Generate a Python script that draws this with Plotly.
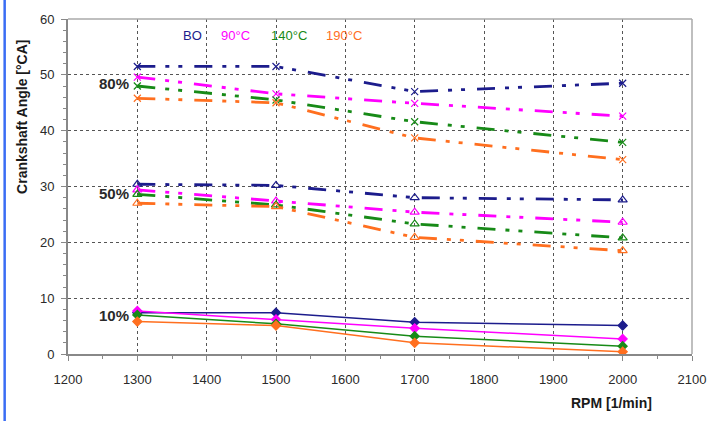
import plotly.graph_objects as go

# Engine speed (RPM) for every measurement
rpm = [1300, 1500, 1700, 2000]

series_names = ["BO", "90°C", "140°C", "190°C"]
series_colors = ["#1c1c8c", "#ff00ff", "#178a17", "#ff6f1f"]

# Crank angle at 80 % mass fraction burned [°CA]
mfb80_bo = [51.5, 51.5, 47.0, 48.5]
mfb80_90 = [49.6, 46.6, 44.9, 42.6]
mfb80_140 = [48.0, 45.5, 41.6, 37.9]
mfb80_190 = [45.8, 45.0, 38.7, 34.8]

# Crank angle at 50 % mass fraction burned [°CA]
mfb50_bo = [30.4, 30.2, 28.0, 27.6]
mfb50_90 = [29.4, 27.4, 25.4, 23.6]
mfb50_140 = [28.6, 26.7, 23.3, 20.8]
mfb50_190 = [27.0, 26.4, 20.9, 18.5]

# Crank angle at 10 % mass fraction burned [°CA]
mfb10_bo = [7.4, 7.4, 5.7, 5.1]
mfb10_90 = [7.7, 6.2, 4.6, 2.7]
mfb10_140 = [7.0, 5.4, 3.2, 1.4]
mfb10_190 = [5.8, 5.1, 2.0, 0.4]

level_labels = ["80%", "50%", "10%"]
level_label_y = [48.5, 28.7, 6.9]

groups = [
    ([mfb80_bo, mfb80_90, mfb80_140, mfb80_190], "x-thin-open", 7,
     "18px,10px,4px,9px,4px,12px", 2.8),
    ([mfb50_bo, mfb50_90, mfb50_140, mfb50_190], "triangle-up-open", 8,
     "18px,10px,4px,9px,4px,12px", 2.8),
    ([mfb10_bo, mfb10_90, mfb10_140, mfb10_190], "diamond", 7,
     "solid", 1.5),
]

fig = go.Figure()
for values, symbol, msize, dash, lw in groups:
    for name, color, ys in zip(series_names, series_colors, values):
        fig.add_trace(go.Scatter(
            x=rpm, y=ys, mode="lines+markers", name=name, showlegend=False,
            line=dict(color=color, width=lw, dash=dash),
            marker=dict(symbol=symbol, size=msize, color=color,
                        line=dict(color=color, width=1.2)),
        ))

FONT = "Liberation Sans, Arial"
annotations = []
# Series names written as a colored caption row
caption_x = [1379, 1442, 1519, 1598]
for name, color, xc in zip(series_names, series_colors, caption_x):
    annotations.append(dict(x=xc, y=57.1, xref="x", yref="y", text=name,
                            showarrow=False,
                            font=dict(family=FONT, size=13, color=color)))
for lab, yy in zip(level_labels, level_label_y):
    annotations.append(dict(x=1267, y=yy, xref="x", yref="y", text=f"<b>{lab}</b>",
                            showarrow=False,
                            font=dict(family=FONT, size=15, color="#2a2a2a")))
annotations.append(dict(x=-0.073, y=0.709, xref="paper", yref="paper",
                        xanchor="center", yanchor="middle",
                        text="<b>Crankshaft Angle [°CA]</b>", textangle=-90,
                        showarrow=False,
                        font=dict(family=FONT, size=14, color="#1a1a1a")))
annotations.append(dict(x=0.871, y=-0.145, xref="paper", yref="paper",
                        xanchor="center", yanchor="middle",
                        text="<b>RPM [1/min]</b>", showarrow=False,
                        font=dict(family=FONT, size=14, color="#1a1a1a")))

shapes = [
    # light frame on top and right of the plotting area
    dict(type="line", xref="paper", yref="paper", x0=0, x1=1, y0=1, y1=1,
         line=dict(color="#aaaaaa", width=1.5)),
    dict(type="line", xref="paper", yref="paper", x0=1, x1=1, y0=0, y1=1,
         line=dict(color="#aaaaaa", width=1.5)),
    # blue bar along the left edge of the page
    dict(type="rect", xref="paper", yref="paper", x0=-0.1035, x1=-0.0995,
         y0=-0.21, y1=1.06, fillcolor="#3a6df4", line=dict(width=0)),
]

tick_font = dict(family=FONT, size=13, color="#2a2a2a")

fig.update_layout(
    width=718, height=421,
    margin=dict(l=68, r=22, t=17, b=67),
    paper_bgcolor="white", plot_bgcolor="white",
    annotations=annotations, shapes=shapes,
    xaxis=dict(range=[1200, 2100], dtick=100, tick0=1200,
               showgrid=True, gridcolor="#555555", griddash="dot", gridwidth=1,
               showline=True, linecolor="#888888", linewidth=2,
               ticks="outside", ticklen=5, tickcolor="#888888",
               minor=dict(dtick=50, ticks="outside", ticklen=3,
                          tickcolor="#888888", showgrid=False),
               ticklabelstandoff=7,
               tickfont=tick_font, zeroline=False, fixedrange=True),
    yaxis=dict(range=[0, 60], dtick=10,
               showgrid=True, gridcolor="#555555", griddash="dot", gridwidth=1,
               showline=True, linecolor="#888888", linewidth=2,
               ticks="outside", ticklen=5, tickcolor="#888888",
               minor=dict(dtick=2, ticks="outside", ticklen=3,
                          tickcolor="#888888", showgrid=False),
               ticklabelstandoff=4,
               tickfont=tick_font, zeroline=False, fixedrange=True),
)

fig.write_html("out.html")
